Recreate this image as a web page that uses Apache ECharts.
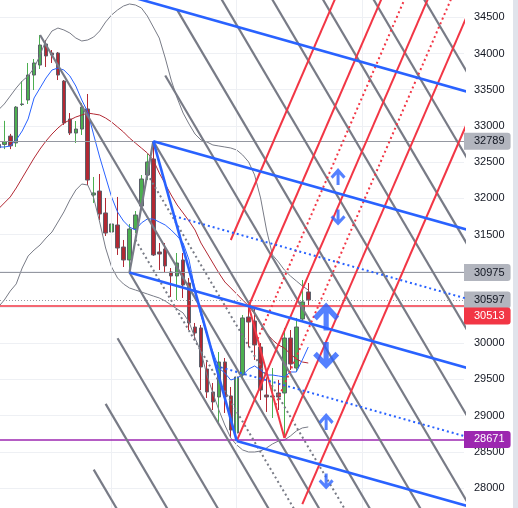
<!DOCTYPE html>
<html><head><meta charset="utf-8">
<script src="https://cdn.jsdelivr.net/npm/echarts@6/dist/echarts.min.js"></script>
<style>html,body{margin:0;padding:0;background:#fff}#c{width:518px;height:508px}</style>
</head><body><div id="c"></div>
<script>
// ---------- DATA ----------
// candles: [barIndex, open, close, low, high]
const candles = [
 [-1,32745,32700,32665,32775],[0,32745,32785,32680,33070],[1,32860,32725,32680,32890],
 [2,32765,33260,32710,33275],[3,33295,33303,33275,33620],[4,33358,33703,33303,33869],
 [5,33703,33869,33496,33924],[6,33841,34117,33786,34256],[7,34131,33966,33814,34187],
 [8,34007,33979,33869,34048],[9,34007,33703,33634,34021],[10,33620,33040,33013,33634],
 [11,33096,32902,32875,33178],[12,32902,32957,32764,33068],[13,32957,33261,32875,33317],
 [14,33234,32253,32184,33441],[15,32046,32074,31936,32295],[16,32101,31784,31701,32336],
 [17,31798,31521,31480,32005],[18,31535,31646,31314,31673],[19,31632,31314,31218,32019],
 [20,31328,31149,31052,31425],[21,31149,31577,30975,31646],[22,31577,31770,31521,31825],
 [23,31894,32267,31867,32322],[24,32322,32502,32253,32612],[25,32543,31218,31204,32789],
 [26,31259,31231,31010,31383],[27,31300,31066,30983,31383],[28,30983,30928,30638,31038],
 [29,30928,31107,30596,31245],[30,31149,30803,30624,31245],[31,30831,30279,30182,30900],
 [32,30223,30140,30044,30279],[33,30210,29671,29353,30251],[34,29643,29326,29243,29768],
 [35,29326,29188,29077,29450],[36,29257,29740,28898,29878],[37,29740,29257,29036,29795],
 [38,29271,28801,28704,29395],[39,28760,29533,28650,29685],[40,29560,30348,29519,30389],
 [41,30361,30292,29947,30513],[42,30306,29975,29768,30486],[43,29947,29353,29215,30002],
 [44,29284,29257,29050,29519],[45,29257,29271,28967,29657],[46,29312,29257,29077,29492],
 [47,29312,30071,28690,30210],[48,30071,29712,29630,30182],[49,29657,30223,29602,30348],
 [50,30334,30569,30292,30872],[51,30707,30597,30527,30831]
];
const firstBar = -1;
const maFast = [32709,32709,32723,32806,32930,33096,33386,33524,33662,33772,33800,33772,33690,33551,33358,33192,32875,32571,32295,32019,31812,31687,31604,31563,31660,31715,31715,31673,31632,31563,31480,31383,31149,30734,30389,30113,29878,29657,29588,29491,29519,29560,29643,29685,29630,29560,29560,29547,29533,29602,29602,29768,29947];
const maSlow = [31853,31936,32019,32143,32281,32419,32557,32681,32792,32888,32971,33040,33082,33123,33151,33178,33165,33151,33109,33054,32985,32916,32833,32764,32695,32626,32529,32350,32198,32046,31908,31798,31687,31563,31383,31245,31107,30969,30845,30762,30679,30596,30513,30403,30265,30140,30044,29975,29933,29850,29781,29740,29726];
const bbUpper = [33220,33303,33413,33524,33620,33690,33800,33979,34187,34311,34352,34325,34283,34214,34173,34187,34228,34311,34435,34532,34601,34656,34684,34670,34629,34518,34366,34214,33938,33634,33386,33178,33026,32888,32806,32778,32737,32723,32709,32695,32667,32598,32502,32322,32005,31563,31218,31121,31010,30928,30859,30790,30734];
const bbLower = [30500,30596,30720,30818,31038,31204,31287,31356,31452,31535,31673,31812,31977,32115,32198,32184,32005,31673,31314,31052,30900,30817,30762,30734,30707,30679,30651,30624,30582,30527,30472,30417,30292,30071,29878,29560,29312,29077,28870,28690,28594,28525,28497,28497,28511,28553,28608,28649,28663,28718,28787,28829,28843];

// pitchforks: [P0, P1, P2] as [barIndex, price]
const grayFork = [[6,34256],[25,32789],[21,30975]];
const grayLevels = [-7,-6,-5,-4,-3,-2,-1,0,1,2,3,4,5];
const grayHalfLevels = [0.5,1.5];
const blueFork = [[21,30975],[25,32789],[39,28650]];
const blueLevels = [-1,0,1,2];
const blueHalfLevels = [0.5,1.5];
const redFork = [[39,28650],[41,30513],[47,28690]];
const redLevels = [-1,0,1,2,3];
const redHalfLevels = [0.5,1.5];

// horizontal price lines
const priceLines = [32789, 30975, 30597, 30513, 28671];
// arrow marks [barIndex, price]
const arrowsUpBig = [[54,30368]];
const arrowsDownBig = [[54,29830]];
const arrowsUpSmall = [[56,32302],[54,28918]];
const arrowsDownSmall = [[56,31736],[54,28090]];
// vertical grid bars
const gridBars = [18, 39, 60];
const yTicks = {min: 27500, max: 35000, step: 500};

// ---------- STYLE ----------
const GREEN = '#4caf50', RED = '#b22833', BORDER = '#5d606b';
const FORK_GRAY = '#787b86', FORK_BLUE = '#2962ff', FORK_RED = '#f23645';
const FONT = '"Liberation Sans", Arial, sans-serif';
const priceLineStyle = [
  {line:{color:'#9598a1',width:1,type:'solid'}, bg:'#b2b5be', fg:'#131722', off:[0,0]},
  {line:{color:'#9598a1',width:1,type:'solid'}, bg:'#b2b5be', fg:'#131722', off:[0,0]},
  {line:{color:'#9598a1',width:1,type:[1,2]}, bg:'#b2b5be', fg:'#131722', off:[0,0]},
  {line:{color:'#f23645',width:1.5,type:'solid'}, bg:'#f23645', fg:'#ffffff', off:[0,10]},
  {line:{color:'#9c27b0',width:1.5,type:'solid'}, bg:'#9c27b0', fg:'#ffffff', off:[0,0]}
];

// ---------- BUILD ----------
const idx = (arr) => arr.map((v,k) => [firstBar + k, v]);
function forkLine(fork, k, far) {
  const [p0,p1,p2] = fork;
  const mid = [(p1[0]+p2[0])/2, (p1[1]+p2[1])/2];
  const dir = [mid[0]-p0[0], mid[1]-p0[1]];
  const s = k === 1 ? p0 : [p1[0] + k*0.5*(p2[0]-p1[0]), p1[1] + k*0.5*(p2[1]-p1[1])];
  const t = (far - s[0]) / dir[0];
  return [s, [s[0]+t*dir[0], s[1]+t*dir[1]]];
}
function lineSeries(data, color, width, type, z) {
  return {type:'line', data, symbol:'none', silent:true, z,
    lineStyle:{color, width, type, cap:'butt'}, animation:false};
}
const series = [];
series.push({type:'line', data:[], z:1, silent:true,
  markLine:{silent:true, symbol:['none','none'], label:{show:false},
    lineStyle:{color:'#eef0f4', width:1, type:'solid'},
    data: gridBars.map(b => ({xAxis:b}))}});
series.push({type:'candlestick', z:2, barWidth:1, data:candles,
  encode:{x:0, y:[1,2,3,4]},
  itemStyle:{color:GREEN, color0:RED, borderColor:GREEN, borderColor0:RED, borderWidth:1}});
series.push({type:'candlestick', z:3, barWidth:4,
  data:candles.map(c => [c[0], c[1], c[2], Math.min(c[1],c[2]), Math.max(c[1],c[2])]),
  encode:{x:0, y:[1,2,3,4]},
  itemStyle:{color:GREEN, color0:RED, borderColor:BORDER, borderColor0:BORDER, borderWidth:1}});
series.push(lineSeries(idx(bbUpper), '#787b86', 1, 'solid', 4));
series.push(lineSeries(idx(bbLower), '#787b86', 1, 'solid', 4));
series.push(lineSeries(idx(maSlow), '#b22833', 1, 'solid', 4));
series.push(lineSeries(idx(maFast), '#2962ff', 1, 'solid', 4));
function addFork(fork, levels, half, color, w) {
  levels.forEach(k => series.push(lineSeries(forkLine(fork,k,120), color, w, 'solid', 5)));
  half.forEach(k => series.push(lineSeries(forkLine(fork,k,120), color, 2, [2,3], 5)));
  series.push(lineSeries([fork[1], fork[2]], color, w, 'solid', 5));
}
addFork(grayFork, grayLevels, grayHalfLevels, FORK_GRAY, 2.2);
addFork(redFork, redLevels, redHalfLevels, FORK_RED, 2);
addFork(blueFork, blueLevels, blueHalfLevels, FORK_BLUE, 2.6);
series.push({type:'line', data:[], z:7, clip:false, silent:true,
  markLine:{silent:true, symbol:['none','none'], precision:0,
    data: priceLines.map((v,k) => ({yAxis:v, lineStyle:priceLineStyle[k].line,
      label:{show:true, position:'end', distance:0, formatter:String(v),
        backgroundColor:priceLineStyle[k].bg, color:priceLineStyle[k].fg,
        padding:[3,6,3,10], fontSize:11, lineHeight:11, fontFamily:FONT,
        borderRadius:[0,3,3,0], offset:priceLineStyle[k].off}}))}});
const UP = 'path://M50,0 L100,50 L86,64 L60,38 L60,100 L40,100 L40,38 L14,64 L0,50 Z';
const DOWN = 'path://M50,100 L100,50 L86,36 L60,62 L60,0 L40,0 L40,62 L14,36 L0,50 Z';
[[arrowsUpBig,UP,[26,28]],[arrowsDownBig,DOWN,[26,27]],[arrowsUpSmall,UP,[15,17]],[arrowsDownSmall,DOWN,[15,16]]]
 .forEach(([d,sym,sz]) => series.push({type:'scatter', data:d, symbol:sym, symbolSize:sz,
   symbolKeepAspect:false, z:8, silent:true, itemStyle:{color:'#2962ff'}}));

const chart = echarts.init(document.getElementById('c'), null, {renderer:'canvas'});
chart.setOption({
  animation:false,
  textStyle:{fontFamily:FONT},
  grid:{left:0, right:54, top:-18.9, bottom:-16.2, containLabel:false, outerBoundsMode:'none'},
  xAxis:{type:'value', min:-0.7215, max:77.13, show:false},
  yAxis:{type:'value', position:'right', min:yTicks.min, max:yTicks.max, interval:yTicks.step,
    axisLine:{show:false}, axisTick:{show:false},
    axisLabel:{margin:10, color:'#131722', fontSize:11, fontFamily:FONT, formatter:(v) => String(v)},
    splitLine:{lineStyle:{color:'#eef0f4', width:1}}},
  graphic:[{type:'rect', right:0, top:0, shape:{width:5, height:508}, style:{fill:'#e0e3eb'}, silent:true}],
  series
});
</script></body></html>
